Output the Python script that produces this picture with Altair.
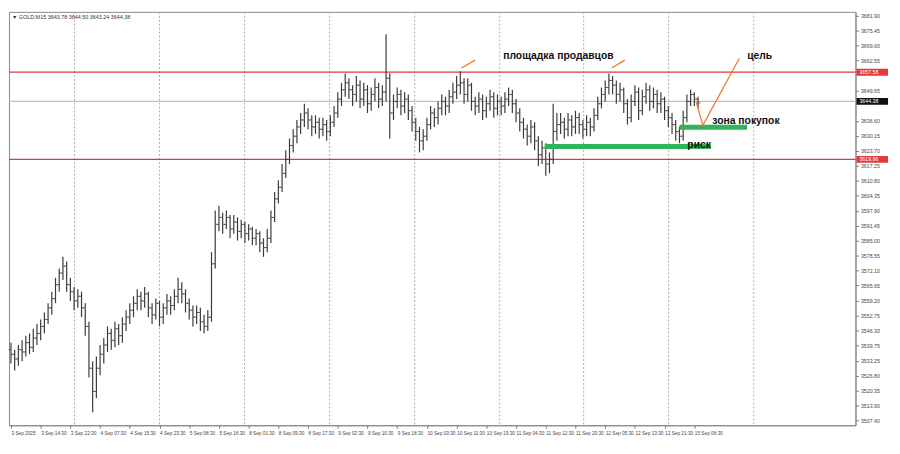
import altair as alt
import pandas as pd

# ---------------- data (hourly bars) ----------------
close = [3536, 3534, 3538, 3537, 3541, 3539, 3543, 3545, 3548, 3551,
         3556, 3560, 3566, 3571, 3574, 3566, 3563, 3559, 3561, 3556,
         3548, 3530, 3520, 3530, 3536, 3540, 3545, 3542, 3547, 3544,
         3549, 3552, 3555, 3558, 3561, 3559, 3562, 3556, 3553, 3558,
         3552, 3556, 3559, 3557, 3561, 3564, 3562, 3558, 3555, 3552,
         3554, 3550, 3548, 3552, 3575, 3592, 3595, 3592, 3595, 3590,
         3593, 3589, 3592, 3588, 3590, 3586, 3588, 3584, 3582, 3586,
         3595, 3603, 3608, 3614, 3620, 3626, 3630, 3634, 3637, 3640,
         3637, 3634, 3636, 3633, 3635, 3632, 3636, 3640, 3646, 3650,
         3653, 3650, 3648, 3652, 3646, 3650, 3644, 3648, 3651, 3646,
         3649, 3655, 3640, 3645, 3648, 3643, 3646, 3641, 3636, 3632,
         3628, 3630, 3635, 3640, 3638, 3642, 3645, 3643, 3647, 3649,
         3652, 3653, 3648, 3652, 3645, 3643, 3646, 3641, 3644, 3647,
         3642, 3645, 3643, 3646, 3648, 3644, 3640, 3636, 3633, 3630,
         3634, 3628, 3622, 3625, 3618, 3620, 3632, 3635, 3636, 3633,
         3637, 3634, 3638, 3635, 3633, 3636, 3634, 3639, 3644, 3648,
         3651, 3654, 3652, 3648, 3650, 3644, 3638, 3645, 3649, 3641,
         3647, 3650, 3645, 3648, 3644, 3646, 3641, 3638, 3635, 3632,
         3630, 3638, 3645, 3648, 3646, 3644.38]
high = [3541, 3538, 3540, 3542, 3544, 3545, 3547, 3549, 3551, 3554,
        3558, 3563, 3569, 3573, 3578, 3576, 3569, 3565, 3564, 3563,
        3558, 3550, 3533, 3535, 3540, 3543, 3548, 3547, 3550, 3549,
        3552, 3555, 3558, 3561, 3564, 3563, 3565, 3563, 3558, 3560,
        3559, 3558, 3562, 3561, 3564, 3569, 3567, 3564, 3560, 3557,
        3557, 3556, 3553, 3555, 3580, 3598, 3600, 3597, 3598, 3596,
        3596, 3595, 3594, 3593, 3592, 3591, 3590, 3589, 3586, 3590,
        3598, 3606, 3611, 3618, 3624, 3629, 3633, 3637, 3640, 3644,
        3642, 3639, 3639, 3638, 3638, 3637, 3639, 3643, 3649, 3653,
        3657, 3655, 3652, 3656, 3654, 3653, 3652, 3651, 3655, 3653,
        3652, 3674, 3657, 3648, 3651, 3650, 3649, 3648, 3643, 3638,
        3634, 3633, 3638, 3643, 3642, 3645, 3648, 3647, 3650, 3653,
        3656, 3658, 3655, 3655, 3653, 3647, 3649, 3648, 3647, 3650,
        3649, 3648, 3647, 3649, 3651, 3650, 3646, 3642, 3638, 3635,
        3637, 3636, 3630, 3628, 3627, 3623, 3644, 3640, 3640, 3638,
        3640, 3639, 3641, 3640, 3637, 3639, 3638, 3642, 3647, 3651,
        3654, 3657, 3656, 3654, 3653, 3651, 3646, 3648, 3652, 3651,
        3650, 3653, 3652, 3651, 3650, 3649, 3647, 3643, 3640, 3637,
        3634, 3641, 3648, 3650, 3649, 3647]
low = [3532, 3529, 3531, 3533, 3535, 3536, 3537, 3540, 3542, 3545,
       3549, 3553, 3558, 3563, 3568, 3563, 3559, 3555, 3556, 3552,
       3544, 3526, 3511, 3517, 3527, 3532, 3537, 3538, 3539, 3540,
       3541, 3546, 3549, 3552, 3555, 3555, 3556, 3552, 3549, 3551,
       3548, 3549, 3553, 3553, 3555, 3558, 3558, 3554, 3551, 3548,
       3549, 3546, 3545, 3546, 3550, 3573, 3589, 3588, 3590, 3586,
       3588, 3585, 3586, 3584, 3585, 3583, 3583, 3580, 3578, 3580,
       3584, 3593, 3601, 3606, 3612, 3618, 3623, 3627, 3631, 3634,
       3633, 3630, 3631, 3629, 3630, 3628, 3630, 3634, 3638, 3643,
       3647, 3646, 3643, 3645, 3642, 3643, 3640, 3641, 3645, 3642,
       3643, 3645, 3629, 3637, 3642, 3639, 3640, 3637, 3632, 3628,
       3623, 3624, 3628, 3633, 3634, 3635, 3639, 3639, 3640, 3644,
       3646, 3648, 3644, 3645, 3641, 3639, 3640, 3637, 3638, 3641,
       3638, 3639, 3639, 3640, 3643, 3640, 3636, 3632, 3629, 3626,
       3627, 3624, 3617, 3618, 3613, 3614, 3618, 3628, 3631, 3629,
       3630, 3630, 3631, 3631, 3629, 3630, 3630, 3632, 3637, 3642,
       3645, 3648, 3648, 3644, 3645, 3640, 3635, 3636, 3643, 3637,
       3639, 3644, 3641, 3642, 3640, 3640, 3637, 3634, 3631, 3628,
       3627, 3628, 3636, 3643, 3643, 3642]
first_open = 3538

x_labels = ["3 Sep 2025", "3 Sep 14:30", "3 Sep 22:30", "4 Sep 07:30", "4 Sep 15:30",
            "4 Sep 23:30", "5 Sep 08:30", "5 Sep 16:30", "8 Sep 01:30", "8 Sep 09:30",
            "8 Sep 17:30", "9 Sep 02:30", "9 Sep 10:30", "9 Sep 18:30", "10 Sep 03:30",
            "10 Sep 11:30", "10 Sep 19:30", "11 Sep 04:30", "11 Sep 12:30", "11 Sep 20:30",
            "12 Sep 05:30", "12 Sep 13:30", "12 Sep 21:30", "15 Sep 06:30"]
x_label_step = 8
y_ticks = [3681.90, 3675.45, 3669.00, 3662.55, 3649.65, 3636.60, 3630.15, 3623.70,
           3617.25, 3610.80, 3604.35, 3597.90, 3591.45, 3585.00, 3578.55, 3572.10,
           3565.65, 3559.20, 3552.75, 3546.30, 3539.75, 3533.25, 3526.80, 3520.35,
           3513.90, 3507.40]
grid_x = [17.1, 40.0, 62.9, 85.8, 108.7, 131.6, 154.2, 177.1, 200.0]

red_levels = [3657.6, 3620.0]
red_level_text = ["3657.58", "3619.96"]
last_price = 3644.38
last_price_line = 3645.0

green_x0 = [143.7, 180.0]
green_x1 = [188.4, 198.2]
green_y = [3625.6, 3633.9]

orange_seg = [0, 0, 1, 1, 2, 2, 2]
orange_x = [121.3, 125.0, 161.8, 165.3, 184.5, 186.3, 196.1]
orange_y = [3659.4, 3662.8, 3659.4, 3662.8, 3644.8, 3634.7, 3663.5]

note_text = ["площадка продавцов", "цель", "зона покупок", "риск"]
note_x = [147.4, 201.6, 197.9, 185.3]
note_y = [3664.4, 3664.4, 3636.4, 3626.0]

header = "▼ GOLD,M15  3643.78 3644.50 3643.24 3644.38"

X_DOMAIN = [-0.53, 227.4]
Y_DOMAIN = [3505.4, 3683.6]
W, H = 858, 419

# ---------------- build ----------------
n = len(close)
opens = [first_open] + close[:-1]
bars = pd.DataFrame({"i": list(range(n)), "open": opens, "high": high,
                     "low": low, "close": close})

label_js = "[" + ",".join("'" + s + "'" for s in x_labels) + "]"


def xs():
    return alt.Scale(domain=X_DOMAIN, nice=False, zero=False)


def ys():
    return alt.Scale(domain=Y_DOMAIN, nice=False, zero=False)


x_axis = alt.Axis(values=[k * x_label_step for k in range(len(x_labels))],
                  labelExpr=label_js + "[round(datum.value/" + str(x_label_step) + ")]",
                  title=None, grid=False, labelAlign="left", labelPadding=2,
                  tickSize=3, labelOverlap=False, labelFlush=False, labelBound=False,
                  labelFontSize=4.8, labelColor="#444", labelFont="Liberation Sans",
                  tickColor="#777", domainColor="#888")
y_axis = alt.Axis(values=y_ticks, format=".2f", orient="right", title=None, grid=False,
                  labelPadding=2, tickSize=3, labelOverlap=False, labelFlush=False,
                  labelBound=False, labelFontSize=5.3, labelColor="#444",
                  labelFont="Liberation Sans", tickColor="#777", domainColor="#888")

base = alt.Chart(bars)

grid = alt.Chart(pd.DataFrame({"gx": grid_x})).mark_rule(
    color="#9a9a9a", strokeDash=[2, 2], strokeWidth=0.8
).encode(x=alt.X("gx:Q", scale=xs(), axis=None))

bar_rules = base.mark_rule(color="#3a3a3a", strokeWidth=1.2).encode(
    x=alt.X("i:Q", scale=xs(), axis=x_axis),
    y=alt.Y("low:Q", scale=ys(), axis=y_axis),
    y2="high:Q",
)
open_ticks = base.mark_tick(orient="horizontal", size=2.5, thickness=1,
                            color="#3a3a3a", xOffset=-1.2).encode(
    x=alt.X("i:Q", scale=xs(), axis=None), y=alt.Y("open:Q", scale=ys(), axis=None))
close_ticks = base.mark_tick(orient="horizontal", size=2.5, thickness=1,
                             color="#3a3a3a", xOffset=1.2).encode(
    x=alt.X("i:Q", scale=xs(), axis=None), y=alt.Y("close:Q", scale=ys(), axis=None))

red_df = pd.DataFrame({"p": red_levels, "t": red_level_text})
red_lines = alt.Chart(red_df).mark_rule(color="#e23a3a", strokeWidth=1.2).encode(
    y=alt.Y("p:Q", scale=ys(), axis=None))
last_df = pd.DataFrame({"p": [last_price_line], "t": [f"{last_price:.2f}"]})
last_line = alt.Chart(last_df).mark_rule(color="#e9b48f", strokeWidth=1.2).encode(
    y=alt.Y("p:Q", scale=ys(), axis=None))

green_df = pd.DataFrame({"a": green_x0, "b": green_x1, "p": green_y})
green = alt.Chart(green_df).mark_rule(color="#2fb45a", strokeWidth=5).encode(
    x=alt.X("a:Q", scale=xs(), axis=None), x2="b:Q",
    y=alt.Y("p:Q", scale=ys(), axis=None))

orange_df = pd.DataFrame({"s": orange_seg, "x": orange_x, "y": orange_y,
                          "o": list(range(len(orange_x)))})
orange = alt.Chart(orange_df).mark_line(color="#f07a32", strokeWidth=1.3).encode(
    x=alt.X("x:Q", scale=xs(), axis=None), y=alt.Y("y:Q", scale=ys(), axis=None),
    detail="s:N", order="o:Q")

notes_df = pd.DataFrame({"t": note_text, "x": note_x, "y": note_y})
notes = alt.Chart(notes_df).mark_text(font="Liberation Sans", fontWeight="bold",
                                      fontSize=10.5, color="#111", align="center",
                                      baseline="middle").encode(
    x=alt.X("x:Q", scale=xs(), axis=None), y=alt.Y("y:Q", scale=ys(), axis=None),
    text="t:N")

red_box = alt.Chart(red_df).mark_rule(color="#e23a3a", strokeWidth=7).encode(
    x=alt.value(W + 1), x2=alt.value(W + 33), y=alt.Y("p:Q", scale=ys(), axis=None))
red_box_text = alt.Chart(red_df).mark_text(font="Liberation Sans", fontSize=5.3,
                                           color="white", align="left",
                                           baseline="middle").encode(
    x=alt.value(W + 4), y=alt.Y("p:Q", scale=ys(), axis=None), text="t:N")
last_box = alt.Chart(last_df).mark_rule(color="#111111", strokeWidth=7).encode(
    x=alt.value(W + 1), x2=alt.value(W + 33), y=alt.Y("p:Q", scale=ys(), axis=None))
last_box_text = alt.Chart(last_df).mark_text(font="Liberation Sans", fontSize=5.3,
                                             color="white", align="left",
                                             baseline="middle").encode(
    x=alt.value(W + 4), y=alt.Y("p:Q", scale=ys(), axis=None), text="t:N")

head = alt.Chart(pd.DataFrame({"t": [header]})).mark_text(
    font="Liberation Sans", fontSize=5.5, color="#333", align="left", baseline="middle"
).encode(x=alt.value(3), y=alt.value(5), text="t:N")

chart = alt.layer(
    grid, red_lines, last_line, bar_rules, open_ticks, close_ticks, green, orange,
    notes, red_box, red_box_text, last_box, last_box_text, head
).resolve_scale(
    x="independent", y="independent"
).resolve_axis(
    x="independent", y="independent"
).properties(
    width=W, height=H, padding={"left": 0, "top": 0, "right": 0, "bottom": 0},
    background="white"
).configure_view(
    stroke="#888", strokeWidth=1
)

chart.save("out.html", embed_options={"renderer": "svg", "actions": False})
